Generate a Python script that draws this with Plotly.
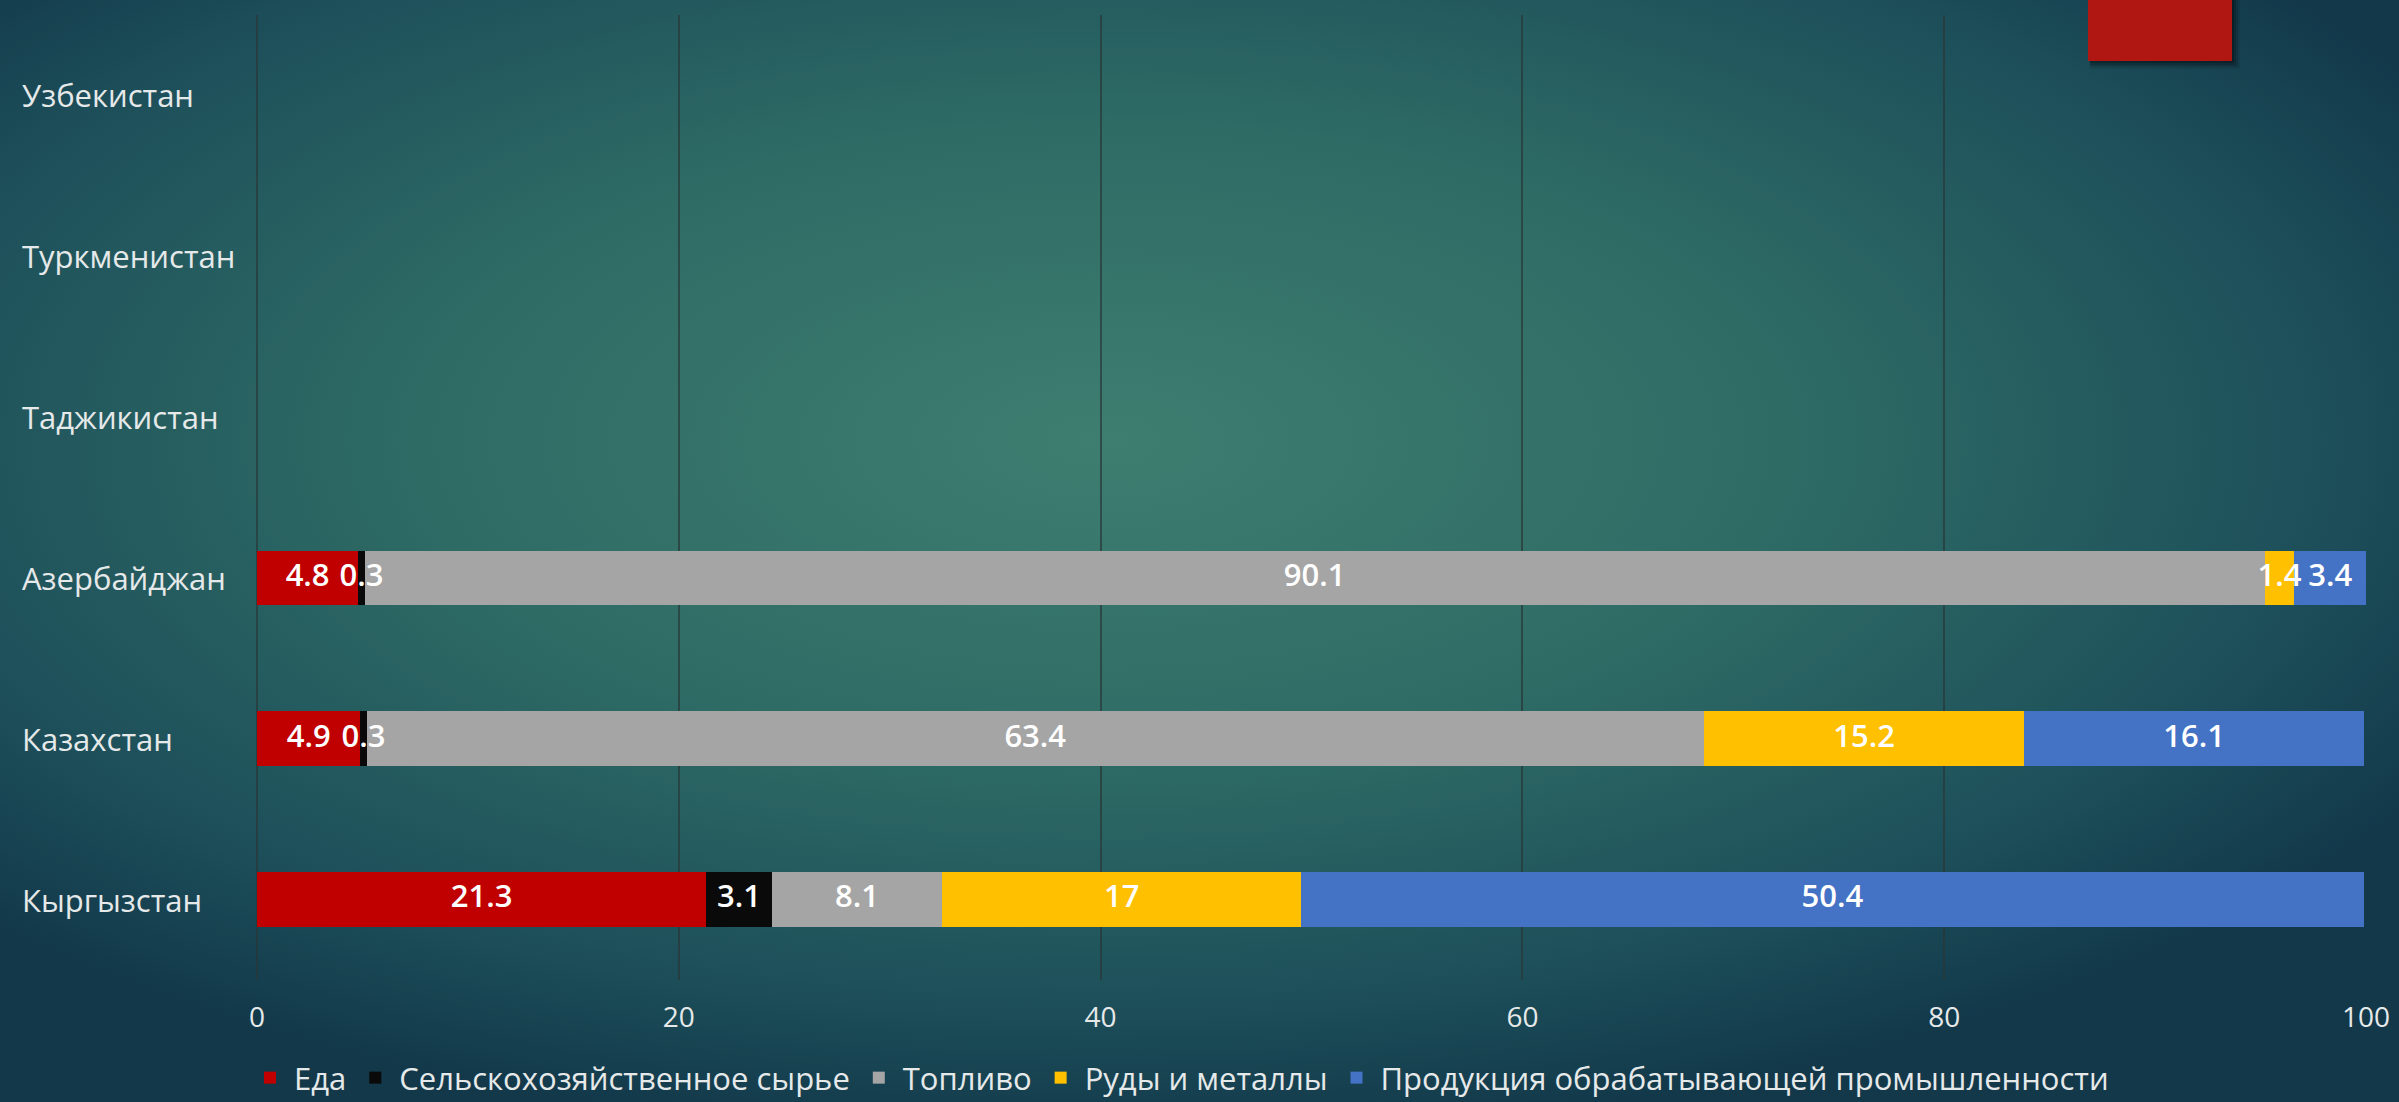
import base64
import plotly.graph_objects as go

# ---------------- data ----------------
countries = ["Кыргызстан", "Казахстан", "Азербайджан", "Таджикистан", "Туркменистан", "Узбекистан"]
series_names = ["Еда", "Сельскохозяйственное сырье", "Топливо", "Руды и металлы",
                "Продукция обрабатывающей промышленности"]
food = [21.3, 4.9, 4.8, None, None, None]
agri_raw = [3.1, 0.3, 0.3, None, None, None]
fuel = [8.1, 63.4, 90.1, None, None, None]
ores = [17, 15.2, 1.4, None, None, None]
manufacturing = [50.4, 16.1, 3.4, None, None, None]
x_ticks = [0, 20, 40, 60, 80, 100]

series_values = [food, agri_raw, fuel, ores, manufacturing]
colors = ["#C00000", "#0A0A0A", "#A5A5A5", "#FFC000", "#4472C4"]

FONT = "Open Sans"
TXT = "#E6E9E9"

W, H = 2399, 1102
ML, MR, MT, MB = 257, 33, 15, 122
PW, PH = W - ML - MR, H - MT - MB

fig = go.Figure()
for name, vals, col in zip(series_names, series_values, colors):
    fig.add_trace(go.Bar(
        y=countries, x=vals, name=name, orientation="h",
        marker=dict(color=col, line=dict(width=0)),
        hoverinfo="x+name",
    ))

# value labels drawn on top of all bars (centered in each segment)
lab_x, lab_y, lab_t = [], [], []
for i, c in enumerate(countries):
    cum = 0.0
    for vals in series_values:
        v = vals[i]
        if v is None:
            continue
        lab_x.append(cum + v / 2)
        lab_y.append(c)
        lab_t.append(f"{v:g}")
        cum += v
fig.add_trace(go.Scatter(
    x=lab_x, y=lab_y, text=lab_t, mode="text", showlegend=False,
    textposition="middle center", hoverinfo="skip", cliponaxis=False,
    textfont=dict(family=FONT, size=31, color="#FFFFFF", weight=600),
))

# background gradient as an SVG image
svg = f'''<svg xmlns="http://www.w3.org/2000/svg" width="{W}" height="{H}" viewBox="0 0 {W} {H}" preserveAspectRatio="none">
<defs>
<radialGradient id="g" cx="0.46" cy="0.40" r="0.64" fx="0.46" fy="0.40">
<stop offset="0" stop-color="#3E7E70"/>
<stop offset="0.45" stop-color="#2E6B65"/>
<stop offset="0.8" stop-color="#1D4F5A"/>
<stop offset="1" stop-color="#12384A"/>
</radialGradient>
</defs>
<rect x="0" y="0" width="{W}" height="{H}" fill="url(#g)"/>
</svg>'''
uri = "data:image/svg+xml;base64," + base64.b64encode(svg.encode()).decode()

def px_x(p):
    return (p - ML) / PW

def px_y(p):
    return (H - MB - p) / PH

fig.add_layout_image(dict(
    source=uri, xref="paper", yref="paper",
    x=px_x(0), y=px_y(0), sizex=W / PW, sizey=H / PH,
    xanchor="left", yanchor="top", sizing="stretch", layer="below",
))

# decorative red rectangle (top-right) with soft shadow
for d, a in [(8, 0.08), (6, 0.12), (4, 0.16), (2, 0.2)]:
    fig.add_shape(type="rect", xref="paper", yref="paper",
                  x0=px_x(2088 + 2), x1=px_x(2232 + d), y0=px_y(-5), y1=px_y(61 + d),
                  fillcolor=f"rgba(0,0,0,{a})", line=dict(width=0), layer="above")
fig.add_shape(type="rect", xref="paper", yref="paper",
              x0=px_x(2088), x1=px_x(2232), y0=px_y(-5), y1=px_y(61),
              fillcolor="#B01713", line=dict(width=0), layer="above")

# left-aligned category labels
for c in countries:
    fig.add_annotation(x=px_x(20), xref="paper", xanchor="left",
                       y=c, yref="y", text=c, showarrow=False,
                       font=dict(family=FONT, size=31, color=TXT))

fig.update_layout(
    width=W, height=H,
    margin=dict(l=ML, r=MR, t=MT, b=MB, autoexpand=False),
    barmode="stack", bargap=0.66,
    paper_bgcolor="#163F4E", plot_bgcolor="rgba(0,0,0,0)",
    font=dict(family=FONT, color=TXT),
    showlegend=True,
    legend=dict(orientation="h", xref="container", x=1180 / W, xanchor="center",
                yref="container", y=(H - 1078) / H, yanchor="middle", traceorder="normal",
                font=dict(family=FONT, size=31, color=TXT),
                bgcolor="rgba(0,0,0,0)", itemsizing="constant",
                tracegroupgap=0, itemwidth=38),
    xaxis=dict(range=[0, 100], tickvals=x_ticks, ticktext=[str(t) for t in x_ticks],
               showgrid=True, gridcolor="rgba(40,55,55,0.7)", gridwidth=2,
               zeroline=True, zerolinecolor="rgba(40,55,55,0.7)", zerolinewidth=2,
               showline=False, ticks="",
               ticklabelstandoff=18,
               tickfont=dict(family=FONT, size=28, color=TXT)),
    yaxis=dict(categoryorder="array", categoryarray=countries,
               showticklabels=False, showgrid=False, zeroline=False, showline=False,
               range=[-0.5, 5.5]),
)

fig.write_html("out.html", config={"displayModeBar": False},
               post_script="document.body.style.margin='0';document.body.style.overflow='hidden';")
